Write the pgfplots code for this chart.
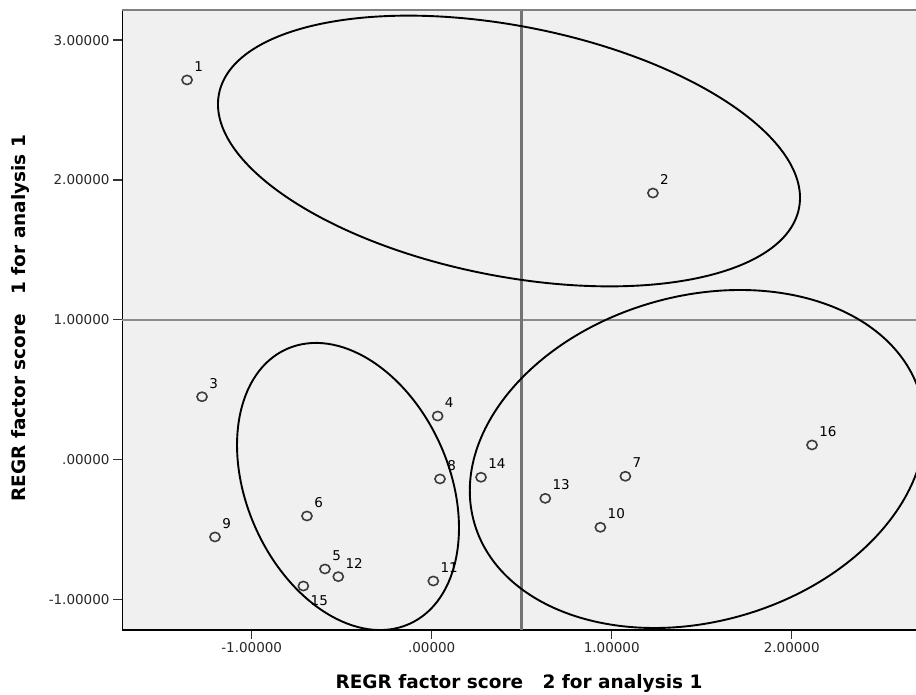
\documentclass[border=0pt]{standalone}
\usepackage{fontspec}
\setmainfont{DejaVu Sans}
\usepackage{pgfplots}
\pgfplotsset{compat=1.18}
\usepackage{pgfplotstable}
\definecolor{bgc}{RGB}{240,240,240}
\definecolor{refv}{RGB}{115,115,115}
\definecolor{refh}{RGB}{140,140,140}
\definecolor{topc}{RGB}{128,128,128}
\definecolor{mk}{RGB}{60,60,60}

\pgfplotstableread{
x y label
-1.359 2.715 1
1.229 1.906 2
-1.276 0.449 3
0.033 0.311 4
-0.593 -0.783 5
-0.693 -0.404 6
1.076 -0.120 7
0.046 -0.139 8
-1.204 -0.554 9
0.937 -0.485 10
0.009 -0.869 11
-0.519 -0.838 12
0.631 -0.278 13
0.274 -0.127 14
2.113 0.104 16
}\mainpts
\pgfplotstableread{
x y label
-0.713 -0.905 15
}\lowpts

\begin{document}
\begin{tikzpicture}
\begin{axis}[
  at={(122pt,64pt)}, anchor=south west,
  scale only axis, width=794pt, height=620pt,
  xmin=-1.7206, xmax=2.6906, ymin=-1.2196, ymax=3.2153,
  axis background/.style={fill=bgc},
  axis x line*=bottom, axis y line*=left,
  x axis line style={line width=1.8pt, black},
  y axis line style={line width=1pt, black},
  tick align=outside, major tick length=9pt,
  tick style={line width=1.3pt, black!80},
  xtick={-1,0,1,2}, xticklabels={-1.00000,.00000,1.00000,2.00000},
  ytick={-1,0,1,2,3}, yticklabels={-1.00000,.00000,1.00000,2.00000,3.00000},
  ticklabel style={font=\fontsize{13.5}{15}\selectfont, text=black!85},
  xlabel={REGR factor score\ \ \ 2 for analysis 1},
  ylabel={REGR factor score\ \ \ 1 for analysis 1},
  xlabel style={at={(axis description cs:0.5,-0.0855)}, anchor=center, font=\fontsize{18.5}{20}\selectfont\bfseries},
  ylabel style={at={(axis description cs:-0.1285,0.503)}, anchor=center, rotate=0, font=\fontsize{18.5}{20}\selectfont\bfseries},
  clip=true,
]
% reference lines
\draw[refh, line width=1.8pt] (axis cs:-1.7206,1) -- (axis cs:2.6906,1);
\draw[refv, line width=2.6pt] (axis cs:0.5,-1.2196) -- (axis cs:0.5,3.2153);
% top border
\draw[topc, line width=2pt] (rel axis cs:0,1) -- (rel axis cs:1,1);
% hand-drawn cluster ellipses
\draw[black, line width=1.9pt, rotate around={-11.17:(axis cs:0.4294,2.2067)}] (axis cs:0.4294,2.2067) ellipse [x radius=295.6pt, y radius=125pt];
\draw[black, line width=1.9pt, rotate around={-66:(axis cs:-0.465,-0.193)}] (axis cs:-0.465,-0.193) ellipse [x radius=150.5pt, y radius=101.3pt];
\draw[black, line width=1.9pt, rotate around={16:(axis cs:1.4756,0.0036)}] (axis cs:1.4756,0.0036) ellipse [x radius=232pt, y radius=162.7pt];
% points
\addplot[only marks, mark=o, mark size=4.6pt,
  mark options={xscale=1.1, draw=mk, line width=1.6pt},
  nodes near coords, point meta=explicit symbolic,
  every node near coord/.append style={anchor=south west, inner sep=0pt, xshift=6.5pt, yshift=7.5pt, font=\fontsize{13.5}{15}\selectfont, text=black}]
  table[x=x, y=y, meta=label] {\mainpts};
\addplot[only marks, mark=o, mark size=4.6pt,
  mark options={xscale=1.1, draw=mk, line width=1.6pt},
  nodes near coords, point meta=explicit symbolic,
  every node near coord/.append style={anchor=north west, inner sep=0pt, xshift=6.5pt, yshift=-9pt, font=\fontsize{13.5}{15}\selectfont, text=black}]
  table[x=x, y=y, meta=label] {\lowpts};
\end{axis}
\pgfresetboundingbox
\useasboundingbox (0,0) rectangle (916pt,694pt);
\end{tikzpicture}
\end{document}
